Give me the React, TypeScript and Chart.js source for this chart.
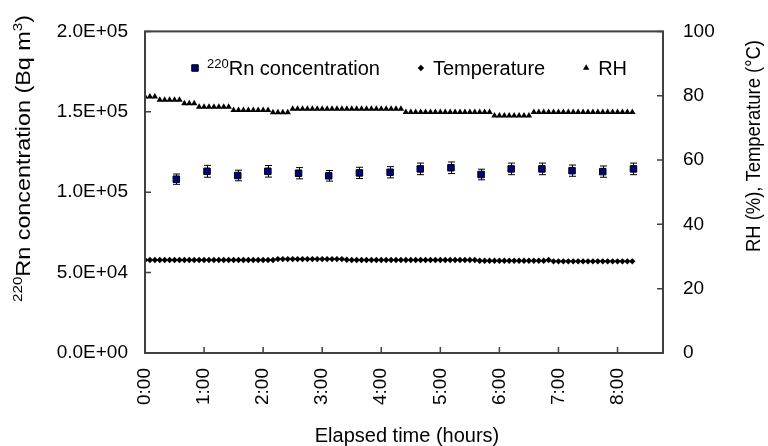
import React, { useEffect, useRef } from "react";
import { Chart, registerables } from "chart.js";

Chart.register(...registerables);

const FONT = "'Liberation Sans', Arial, sans-serif";
const AXIS_COLOR = "#404040";

// ---- Rn concentration (Bq m-3), elapsed hours ----
const RN_HOURS = [0.53, 1.05, 1.57, 2.08, 2.6, 3.11, 3.63, 4.15, 4.66, 5.18, 5.69, 6.2, 6.72, 7.23, 7.75, 8.27];
const RN_VALUES = [108100, 113000, 110400, 113000, 111800, 110200, 112000, 112400, 114500, 115200, 111000, 114500, 114500, 113400, 112800, 114500];
const RN_ERRORS = [3200, 3700, 3300, 3600, 3500, 3300, 3500, 3500, 3600, 3600, 3300, 3600, 3600, 3500, 3500, 3600];

// ---- Temperature / RH, elapsed minutes ----
const MINUTES = [
  0, 5, 10, 15, 20, 25, 30, 35, 40, 45,
  50, 55, 60, 65, 70, 75, 80, 85, 90, 95,
  100, 105, 110, 115, 120, 125, 130, 135, 140, 145,
  150, 155, 160, 165, 170, 175, 180, 185, 190, 195,
  200, 205, 210, 215, 220, 225, 230, 235, 240, 245,
  250, 255, 260, 265, 270, 275, 280, 285, 290, 295,
  300, 305, 310, 315, 320, 325, 330, 335, 340, 345,
  350, 355, 360, 365, 370, 375, 380, 385, 390, 395,
  400, 405, 410, 415, 420, 425, 430, 435, 440, 445,
  450, 455, 460, 465, 470, 475, 480, 485, 490, 495,
];

const TEMPERATURE = [
  28.9, 28.9, 28.9, 28.9, 28.9, 28.9, 28.9, 28.9, 28.9, 28.9,
  28.9, 28.9, 28.9, 28.9, 28.9, 28.9, 28.9, 28.9, 28.9, 28.9,
  28.9, 28.9, 28.9, 28.9, 28.9, 28.9, 28.9, 29.2, 29.2, 29.2,
  29.2, 29.2, 29.2, 29.2, 29.2, 29.2, 29.2, 29.2, 29.2, 29.2,
  29.2, 29.0, 28.9, 28.9, 28.9, 28.9, 28.9, 28.9, 28.9, 28.9,
  28.9, 28.9, 28.9, 28.9, 28.9, 28.9, 28.9, 28.9, 28.9, 28.9,
  28.9, 28.9, 28.9, 28.9, 28.9, 28.9, 28.9, 28.9, 28.7, 28.7,
  28.7, 28.7, 28.7, 28.7, 28.7, 28.7, 28.7, 28.7, 28.7, 28.7,
  28.7, 28.7, 28.9, 28.5, 28.5, 28.5, 28.5, 28.5, 28.5, 28.5,
  28.5, 28.5, 28.5, 28.5, 28.5, 28.5, 28.5, 28.5, 28.5, 28.5,
];

const RH = [
  79.7, 79.7, 79.7, 78.7, 78.7, 78.7, 78.7, 78.7, 77.6, 77.6,
  77.6, 76.5, 76.5, 76.5, 76.5, 76.5, 76.5, 76.5, 75.5, 75.5,
  75.5, 75.5, 75.5, 75.5, 75.5, 75.5, 74.8, 74.8, 74.8, 74.8,
  75.9, 75.9, 75.9, 75.9, 75.9, 75.9, 75.9, 75.9, 75.9, 75.9,
  75.9, 75.9, 75.9, 75.9, 75.9, 75.9, 75.9, 75.9, 75.9, 75.9,
  75.9, 75.9, 75.9, 74.9, 74.9, 74.9, 74.9, 74.9, 74.9, 74.9,
  74.9, 74.9, 74.9, 74.9, 74.9, 74.9, 74.9, 74.9, 74.9, 74.9,
  74.9, 73.8, 73.8, 73.8, 73.8, 73.8, 73.8, 73.8, 73.8, 74.9,
  74.9, 74.9, 74.9, 74.9, 74.9, 74.9, 74.9, 74.9, 74.9, 74.9,
  74.9, 74.9, 74.9, 74.9, 74.9, 74.9, 74.9, 74.9, 74.9, 74.9,
];

// ---- axes ----
const X_MAX = 8.77;
const X_TICKS = [0, 1, 2, 3, 4, 5, 6, 7, 8];
const X_TICK_LABELS = ["0:00", "1:00", "2:00", "3:00", "4:00", "5:00", "6:00", "7:00", "8:00"];
const LEFT_TICKS = [0, 50000, 100000, 150000, 200000];
const LEFT_TICK_LABELS = ["0.0E+00", "5.0E+04", "1.0E+05", "1.5E+05", "2.0E+05"];
const RIGHT_TICKS = [0, 20, 40, 60, 80, 100];
const RIGHT_TICK_LABELS = ["0", "20", "40", "60", "80", "100"];

const SERIES_LABELS = ["Rn concentration", "Temperature", "RH"];
const SERIES_SUPERSCRIPTS = ["220", "", ""];

type Seg = { text: string; size: number; rise?: number };

function drawMarker(ctx: CanvasRenderingContext2D, style: string, x: number, y: number, r: number, fill: string, stroke: string, bw: number) {
  ctx.save();
  ctx.beginPath();
  if (style === "rect") {
    const s = Math.SQRT1_2 * r;
    ctx.rect(x - s, y - s, 2 * s, 2 * s);
  } else if (style === "rectRot") {
    ctx.moveTo(x, y - r);
    ctx.lineTo(x + r, y);
    ctx.lineTo(x, y + r);
    ctx.lineTo(x - r, y);
    ctx.closePath();
  } else {
    let rad = 0;
    ctx.moveTo(x + Math.sin(rad) * r, y - Math.cos(rad) * r);
    rad += (2 * Math.PI) / 3;
    ctx.lineTo(x + Math.sin(rad) * r, y - Math.cos(rad) * r);
    rad += (2 * Math.PI) / 3;
    ctx.lineTo(x + Math.sin(rad) * r, y - Math.cos(rad) * r);
    ctx.closePath();
  }
  ctx.fillStyle = fill;
  ctx.fill();
  if (bw > 0) {
    ctx.lineWidth = bw;
    ctx.strokeStyle = stroke;
    ctx.stroke();
  }
  ctx.restore();
}

function measureSegs(ctx: CanvasRenderingContext2D, segs: Seg[]) {
  return segs.map((s) => {
    ctx.font = `${s.size}px ${FONT}`;
    return ctx.measureText(s.text).width;
  });
}

function drawRich(ctx: CanvasRenderingContext2D, segs: Seg[], x: number, y: number, rot: number, target: number, align: "start" | "center") {
  ctx.save();
  const widths = measureSegs(ctx, segs);
  const total = widths.reduce((a, b) => a + b, 0);
  const k = target > 0 ? target / total : 1;
  ctx.translate(x, y);
  ctx.rotate(rot);
  ctx.scale(k, 1);
  let cx = align === "center" ? -total / 2 : 0;
  ctx.fillStyle = "#000";
  ctx.textBaseline = "alphabetic";
  ctx.textAlign = "left";
  segs.forEach((s, i) => {
    ctx.font = `${s.size}px ${FONT}`;
    ctx.fillText(s.text, cx, -(s.rise || 0));
    cx += widths[i];
  });
  ctx.restore();
}

const decorPlugin = {
  id: "decor",
  beforeDatasetsDraw(chart: any) {
    const ctx: CanvasRenderingContext2D = chart.ctx;
    const xs = chart.scales.x;
    const ys = chart.scales.y;
    ctx.save();
    ctx.strokeStyle = "#000";
    ctx.lineWidth = 1;
    RN_HOURS.forEach((h, i) => {
      const px = Math.round(xs.getPixelForValue(h)) + 0.5;
      const top = ys.getPixelForValue(RN_VALUES[i] + RN_ERRORS[i]);
      const bot = ys.getPixelForValue(RN_VALUES[i] - RN_ERRORS[i]);
      ctx.beginPath();
      ctx.moveTo(px, top);
      ctx.lineTo(px, bot);
      ctx.moveTo(px - 3.5, top);
      ctx.lineTo(px + 3.5, top);
      ctx.moveTo(px - 3.5, bot);
      ctx.lineTo(px + 3.5, bot);
      ctx.stroke();
    });
    ctx.restore();
  },
  afterDraw(chart: any) {
    const ctx: CanvasRenderingContext2D = chart.ctx;
    const a = chart.chartArea;
    const xs = chart.scales.x;
    const ys = chart.scales.y;
    const y2 = chart.scales.y2;
    ctx.save();
    ctx.strokeStyle = AXIS_COLOR;
    ctx.lineWidth = 2;
    ctx.strokeRect(a.left, a.top, a.right - a.left, a.bottom - a.top);
    ctx.lineWidth = 1.5;
    ctx.beginPath();
    X_TICKS.forEach((v) => {
      const px = xs.getPixelForValue(v);
      ctx.moveTo(px, a.bottom);
      ctx.lineTo(px, a.bottom - 6);
    });
    LEFT_TICKS.forEach((v) => {
      const py = ys.getPixelForValue(v);
      ctx.moveTo(a.left, py);
      ctx.lineTo(a.left + 6, py);
    });
    RIGHT_TICKS.forEach((v) => {
      const py = y2.getPixelForValue(v);
      ctx.moveTo(a.right, py);
      ctx.lineTo(a.right - 6, py);
    });
    ctx.stroke();
    ctx.restore();

    // legend
    const ly = 68;
    let lx = 195;
    chart.data.datasets.forEach((ds: any, i: number) => {
      drawMarker(ctx, ds.pointStyle, lx, ly, ds.pointRadius, ds.backgroundColor, ds.borderColor, ds.borderWidth);
      const segs: Seg[] = [];
      if (SERIES_SUPERSCRIPTS[i]) segs.push({ text: SERIES_SUPERSCRIPTS[i], size: 13, rise: 7 });
      segs.push({ text: ds.label, size: 20 });
      const tx = lx + 12;
      drawRich(ctx, segs, tx, ly + 7, 0, 0, "start");
      const w = measureSegs(ctx, segs).reduce((p, q) => p + q, 0);
      lx = tx + w + 41;
    });

    // axis titles
    drawRich(
      ctx,
      [
        { text: "220", size: 13, rise: 8 },
        { text: "Rn concentration (Bq m", size: 20 },
        { text: "3", size: 13, rise: 8 },
        { text: ")", size: 20 },
      ],
      30,
      302,
      -Math.PI / 2,
      287,
      "start"
    );
    drawRich(ctx, [{ text: "RH (%), Temperature (°C)", size: 20 }], 760, 252, -Math.PI / 2, 212, "start");
    drawRich(ctx, [{ text: "Elapsed time (hours)", size: 20 }], 407, 442, 0, 0, "center");
  },
};

export default function App() {
  const ref = useRef<HTMLCanvasElement | null>(null);
  useEffect(() => {
    if (!ref.current) return;
    const tickFont = { family: FONT, size: 19 };
    const chart = new Chart(ref.current, {
      type: "scatter",
      data: {
        datasets: [
          {
            label: SERIES_LABELS[0],
            data: RN_HOURS.map((h, i) => ({ x: h, y: RN_VALUES[i] })),
            yAxisID: "y",
            pointStyle: "rect",
            pointRadius: 4.6,
            backgroundColor: "#000080",
            borderColor: "#000000",
            borderWidth: 1,
          },
          {
            label: SERIES_LABELS[1],
            data: MINUTES.map((m, i) => ({ x: m / 60, y: TEMPERATURE[i] })),
            yAxisID: "y2",
            pointStyle: "rectRot",
            pointRadius: 3.2,
            backgroundColor: "#000000",
            borderColor: "#000000",
            borderWidth: 0,
          },
          {
            label: SERIES_LABELS[2],
            data: MINUTES.map((m, i) => ({ x: m / 60, y: RH[i] })),
            yAxisID: "y2",
            pointStyle: "triangle",
            pointRadius: 3.7,
            backgroundColor: "#000000",
            borderColor: "#000000",
            borderWidth: 0,
          },
        ],
      },
      options: {
        animation: false,
        responsive: false,
        devicePixelRatio: 1,
        events: [],
        layout: { padding: { top: 25, left: 0, right: 0, bottom: 0 } },
        plugins: { legend: { display: false }, tooltip: { enabled: false } },
        scales: {
          x: {
            type: "linear",
            position: "bottom",
            min: 0,
            max: X_MAX,
            grid: { display: false, drawTicks: false },
            border: { display: false },
            afterBuildTicks: (s: any) => {
              s.ticks = X_TICKS.map((v) => ({ value: v }));
            },
            afterFit: (s: any) => {
              s.height = 93;
            },
            ticks: {
              autoSkip: false,
              minRotation: 90,
              maxRotation: 90,
              padding: 15,
              color: "#000",
              font: tickFont,
              callback: (v: any) => X_TICK_LABELS[X_TICKS.indexOf(Number(v))] ?? "",
            },
          },
          y: {
            type: "linear",
            position: "left",
            min: 0,
            max: 200000,
            grid: { display: false, drawTicks: false },
            border: { display: false },
            afterBuildTicks: (s: any) => {
              s.ticks = LEFT_TICKS.map((v) => ({ value: v }));
            },
            afterFit: (s: any) => {
              s.width = 145;
            },
            ticks: {
              padding: 17,
              color: "#000",
              font: tickFont,
              callback: (v: any) => LEFT_TICK_LABELS[LEFT_TICKS.indexOf(Number(v))] ?? "",
            },
          },
          y2: {
            type: "linear",
            position: "right",
            min: 0,
            max: 100,
            grid: { display: false, drawTicks: false },
            border: { display: false },
            afterBuildTicks: (s: any) => {
              s.ticks = RIGHT_TICKS.map((v) => ({ value: v }));
            },
            afterFit: (s: any) => {
              s.width = 105;
            },
            ticks: {
              padding: 20,
              color: "#000",
              font: tickFont,
              callback: (v: any) => RIGHT_TICK_LABELS[RIGHT_TICKS.indexOf(Number(v))] ?? "",
            },
          },
        },
      },
      plugins: [decorPlugin],
    } as any);
    return () => chart.destroy();
  }, []);
  return (
    <div style={{ position: "fixed", left: 0, top: 0, width: 768, height: 446, background: "#fff" }}>
      <canvas ref={ref} width={768} height={446} style={{ display: "block", width: 768, height: 446 }} />
    </div>
  );
}
